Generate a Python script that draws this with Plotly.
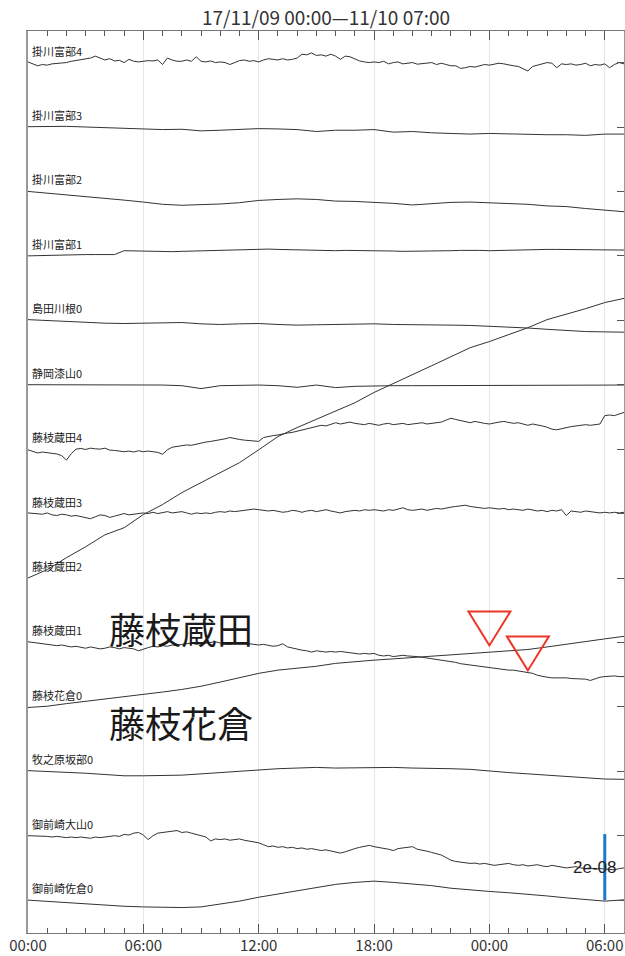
import pandas as pd
import plotly.graph_objects as go

# ---------------- data (strain, units of 1e-10, upward positive, first sample ~0) ----------------
START = "2017-11-09 00:00"
END = "2017-11-10 07:00"

station_names = ["掛川富部4", "掛川富部3", "掛川富部2", "掛川富部1", "島田川根0", "静岡漆山0",
                 "藤枝蔵田4", "藤枝蔵田3", "藤枝蔵田2", "藤枝蔵田1", "藤枝花倉0", "牧之原坂部0",
                 "御前崎大山0", "御前崎佐倉0"]

kakegawa_fukube4 = [2, -4, -10, -6, -8, -4, -3, -1, 0, 4,
                    6, 10, 12, 14, 20, 14, 8, 12, 5, 7,
                    0, 10, 4, 2, 4, 6, 5, 8, -6, 14,
                    8, 4, 4, 8, 4, 18, 4, 2, 5, 0,
                    2, 0, -6, 0, 6, 8, 4, 6, 2, 8,
                    12, 10, 8, 12, 8, 10, 14, 26, 24, 30,
                    22, 24, 20, 26, 20, 10, 20, 18, 12, 5,
                    2, 0, 2, 0, 4, -4, 0, 2, -4, -2,
                    0, -5, -4, -2, 0, -6, -2, -6, -10, -10,
                    -18, -16, -12, -14, -10, -6, -8, -4, -2, -4,
                    -8, -10, -12, -18, -26, -12, -8, -4, 0, -2,
                    -16, -4, -6, -4, -8, -6, -2, -10, -6, -8,
                    -4, -16, -6, 0, -4]
kakegawa_fukube3 = [1, 2, 2, 0, -2, -4, -6, -8, -7, -12, -10, -7, -5, -6, -8, -14,
                    -10, -10, -8, -16, -14, -18, -20, -22, -20, -22, -24, -24, -24, -26, -22, -22]
kakegawa_fukube2 = [0, -5, -10, -15, -20, -27, -33, -40, -43, -42, -39, -35, -28, -25, -23, -25,
                    -30, -31, -33, -37, -42, -37, -34, -33, -35, -37, -40, -45, -47, -53, -57, -63]
kakegawa_fukube1 = [0, 1, 2, 3, 4, 4, 4, 4, 4, 4,
                    16, 15, 14, 13, 12, 13, 14, 15, 16, 17,
                    18, 19, 20, 21, 22, 21, 20, 19, 18, 18,
                    18, 17, 16, 17, 17, 16, 16, 15, 15, 14,
                    14, 14, 14, 15, 16, 17, 18, 17, 16, 17,
                    17, 18, 18, 19, 20, 20, 20, 19, 18, 18,
                    18, 18, 18]
shimada_kawane0 = [2, -1, -4, -7, -9, -10, -9, -7, -7, -11, -13, -11, -10, -13, -15, -14,
                   -13, -13, -11, -13, -13, -13, -15, -16, -18, -20, -24, -28, -32, -35, -36, -37]
shizuoka_urushiyama0 = [0, 0, -1, -1, -1, -1, -2, -1, -3, -12, -3, -2, -1, -3, -8, -1,
                        -9, -5, -3, -3, -3, -3, -3, -3, -3, -2, -2, -2, -2, -2, -2, -1]
fujieda_kurata4 = [-2, -7, -12, -9, -10, -13, -15, -20, -34, -14,
                   0, 2, -1, 3, 1, 0, 3, -3, -4, -7,
                   -8, -6, -9, -5, -8, -6, -9, -10, -16, -2,
                   6, 8, 10, 13, 12, 16, 18, 22, 24, 26,
                   30, 32, 36, 32, 30, 28, 27, 25, 24, 36,
                   40, 42, 44, 48, 50, 52, 56, 60, 62, 66,
                   70, 74, 72, 76, 82, 78, 82, 84, 80, 77,
                   76, 80, 78, 74, 78, 80, 76, 78, 80, 76,
                   78, 80, 82, 78, 80, 82, 84, 90, 96, 92,
                   88, 84, 82, 86, 82, 80, 78, 82, 84, 86,
                   84, 80, 82, 78, 74, 78, 76, 72, 68, 62,
                   60, 64, 66, 70, 72, 74, 76, 74, 76, 78,
                   104, 106, 104, 110, 114]
fujieda_kurata3 = [2, 0, 0, -2, 2, -4, -6, -2, -4, -8,
                   -6, -10, -12, -16, -10, -4, -6, -12, -8, -4,
                   0, -4, -2, 0, 2, 0, 4, 0, 2, 6,
                   2, 4, 6, 2, -2, 2, 0, 2, 0, 4,
                   6, 4, 8, 6, 8, 10, 12, 14, 12, 10,
                   8, 10, 6, 4, 6, 10, 8, 4, 8, 10,
                   6, 10, 12, 8, 4, 2, 6, 8, 10, 8,
                   12, 10, 12, 10, 8, 12, 10, 14, 18, 12,
                   10, 12, 14, 10, 12, 16, 14, 18, 20, 22,
                   24, 26, 22, 20, 18, 16, 18, 16, 14, 16,
                   12, 14, 12, 10, 14, 12, 8, 10, 6, 10,
                   8, 12, -6, 8, 6, 4, 8, 6, 4, 2,
                   4, 2, 4, 2, 4]
fujieda_kurata2 = [0, 26, 63, 97, 134, 156, 197, 228, 265, 296, 327, 358, 398, 439, 467, 492,
                   517, 544, 576, 603, 631, 659, 687, 715, 734, 756, 777, 802, 818, 836, 855, 868]
fujieda_kurata1 = [2, 0, -2, -4, -6, -8, -10, -8, -12, -14,
                   -12, -16, -18, -14, -16, -20, -18, -14, -16, -20,
                   -16, -18, -20, -26, -20, -16, -12, -14, -10, -12,
                   -8, -10, -6, -4, -2, -6, -4, -2, 0, 2,
                   -2, -4, -6, -2, -4, -2, -4, -6, -8, -6,
                   -10, -12, -10, -4, -14, -18, -20, -24, -26, -30,
                   -26, -28, -30, -28, -30, -28, -30, -32, -34, -36,
                   -34, -36, -34, -40, -42, -40, -44, -42, -40, -42,
                   -42, -44, -46, -48, -50, -52, -54, -56, -60, -62,
                   -66, -68, -70, -72, -74, -76, -80, -82, -82, -84,
                   -86, -86, -88, -90, -92, -96, -102, -106, -108, -110,
                   -110, -108, -110, -112, -112, -114, -114, -118, -112, -108,
                   -106, -104, -104, -106, -106]
fujieda_hanagura0 = [-2, 2, 10, 17, 23, 31, 37, 46, 54, 64, 77, 91, 104, 114, 120, 126,
                     135, 141, 145, 149, 153, 157, 161, 166, 168, 172, 178, 186, 195, 203, 211, 219]
makinohara_sakabe0 = [2, 0, -2, -6, -10, -14, -14, -14, -12, -8, -4, 2, 6, 8, 10, 12,
                      10, 11, 12, 12, 10, 10, 8, 6, 0, -4, -8, -12, -16, -22, -24, -25]
omaezaki_oyama0 = [0, 0, -2, 0, -2, -4, -2, -4, -6, -4,
                   -6, -4, -6, -8, -4, -6, -4, -2, 0, -2,
                   4, 2, 8, 10, 2, -12, 0, 8, 10, 12,
                   14, 16, 10, 12, 8, 4, 0, -4, -16, -10,
                   -12, -10, -14, -12, -10, -14, -16, -18, -22, -28,
                   -34, -32, -36, -34, -38, -36, -40, -38, -42, -40,
                   -44, -46, -44, -48, -50, -54, -50, -44, -40, -36,
                   -32, -30, -34, -36, -40, -42, -46, -40, -38, -36,
                   -34, -42, -44, -48, -52, -56, -60, -68, -76, -80,
                   -82, -84, -86, -85, -88, -86, -90, -92, -90, -88,
                   -86, -90, -92, -90, -94, -92, -90, -94, -96, -92,
                   -94, -96, -100, -98, -96, -100, -102, -100, -104, -102,
                   -104, -104, -106, -102, -100]
omaezaki_sakura0 = [0, -4, -8, -11, -15, -19, -21, -23, -23, -21, -13, -3, 9, 19, 31, 41,
                    49, 55, 59, 55, 51, 45, 37, 31, 27, 23, 19, 13, 7, 3, -3, 1]

series = [kakegawa_fukube4, kakegawa_fukube3, kakegawa_fukube2, kakegawa_fukube1,
          shimada_kawane0, shizuoka_urushiyama0, fujieda_kurata4, fujieda_kurata3,
          fujieda_kurata2, fujieda_kurata1, fujieda_hanagura0, makinohara_sakabe0,
          omaezaki_oyama0, omaezaki_sakura0]

UNIT = 1e-10                 # data unit
SCALE_STRAIN = 2e-8          # scale bar value = trace spacing
SPACING = SCALE_STRAIN / UNIT
scale_label = "2e-08"
scale_time = "2017-11-10 06:00"

event_times = ["2017-11-10 00:00", "2017-11-10 02:00"]
title_text = "17/11/09 00:00—11/10 07:00"
big_labels = ["藤枝蔵田", "藤枝花倉"]

# ---------------- figure ----------------
FONT = "Noto Sans CJK JP"
fig = go.Figure()

for i, vals in enumerate(series):
    t = pd.date_range(START, END, periods=len(vals))
    y = [v - i * SPACING for v in vals]
    fig.add_trace(go.Scatter(x=t, y=y, mode="lines",
                             line=dict(color="#333333", width=1), hoverinfo="skip"))
    fig.add_annotation(x=0, xref="paper", y=-i * SPACING, yref="y", text=station_names[i],
                       showarrow=False, xanchor="left", yanchor="middle", xshift=2, yshift=12,
                       font=dict(family=FONT, size=11, color="#222222"))

# scale bar
sb_top = -12 * SPACING
fig.add_trace(go.Scatter(x=[scale_time, scale_time], y=[sb_top + 5, sb_top - SCALE_STRAIN / UNIT],
                         mode="lines", line=dict(color="#1e78c8", width=3), hoverinfo="skip"))
fig.add_annotation(x=scale_time, xref="x", y=sb_top - SCALE_STRAIN / UNIT / 2, yref="y",
                   text=scale_label, showarrow=False, xanchor="center", yanchor="middle",
                   xshift=-10, font=dict(family="Liberation Sans", size=17, color="#222222"))

# event triangles (inverted, outline)
apex_offsets = [-3, -28]
for et, dy in zip(event_times, apex_offsets):
    fig.add_shape(type="path", xref="x", yref="y", xsizemode="pixel", ysizemode="pixel",
                  xanchor=et, yanchor=-9 * SPACING,
                  path=f"M0,{dy} L-21,{dy + 34} L21,{dy + 34} Z",
                  line=dict(color="#ec3528", width=2), fillcolor="rgba(0,0,0,0)")

# big station labels
for txt, py in zip(big_labels, [0.338, 0.234]):
    fig.add_annotation(x=0.2567, xref="paper", y=py, yref="paper", text=txt, showarrow=False,
                       xanchor="center", yanchor="middle",
                       font=dict(family=FONT, size=36, color="#1a1a1a"))

fig.update_layout(
    width=625, height=956,
    margin=dict(l=28, r=1, t=31, b=23),
    paper_bgcolor="white", plot_bgcolor="white",
    showlegend=False,
    title=dict(text=title_text, x=0.5, xref="paper", xanchor="center",
               y=1 - 18 / 956, yref="container", yanchor="middle",
               font=dict(family=FONT, size=19, color="#333333")),
)
fig.update_xaxes(
    type="date", range=[START, END], tickformat="%H:%M", dtick=6 * 3600000, tick0=START,
    ticks="inside", ticklen=9, tickwidth=1, tickcolor="#555555",
    showline=True, linecolor="#777777", linewidth=1, mirror="ticks",
    showgrid=True, gridcolor="#e6e6e6", gridwidth=1, zeroline=False, automargin=False,
    minor=dict(dtick=3600000, ticks="inside", ticklen=5, tickcolor="#555555", showgrid=False),
    tickfont=dict(family=FONT, size=15, color="#333333"),
    ticklabelstandoff=-1,
)
fig.update_yaxes(
    range=[-13.51 * SPACING, 0.49 * SPACING], side="right",
    tickvals=[-i * SPACING for i in range(len(series))], ticks="inside", ticklen=7,
    tickcolor="#555555", showticklabels=False,
    showline=True, linecolor="#999999", linewidth=2, mirror=True,
    showgrid=False, zeroline=False, automargin=False,
)

fig.write_html("out.html")
